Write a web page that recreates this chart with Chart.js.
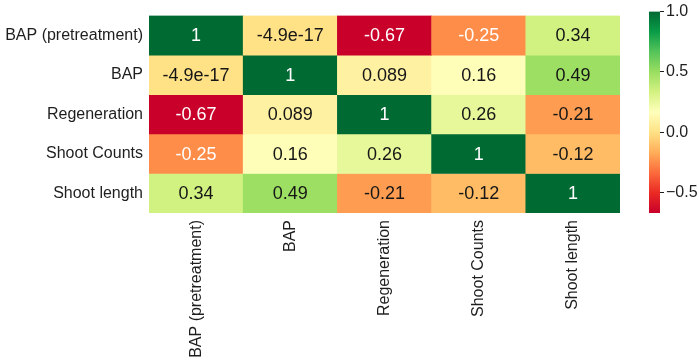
<!DOCTYPE html>
<html>
<head>
<meta charset="utf-8">
<script src="https://cdn.jsdelivr.net/npm/chart.js@4/dist/chart.umd.min.js"></script>
<style>
  body { margin: 0; background: #fff; }
  #wrap { position: relative; width: 699px; height: 363px; }
  canvas { position: absolute; top: 0; }
</style>
</head>
<body>
<div id="wrap">
  <canvas id="heat" width="630" height="363" style="left:0"></canvas>
  <canvas id="bar" width="79" height="363" style="left:620px"></canvas>
</div>
<script>
var labels = ['BAP (pretreatment)', 'BAP', 'Regeneration', 'Shoot Counts', 'Shoot length'];
var rowPre = [1, -4.9e-17, -0.67, -0.25, 0.34];
var rowBap = [-4.9e-17, 1, 0.089, 0.16, 0.49];
var rowReg = [-0.67, 0.089, 1, 0.26, -0.21];
var rowCounts = [-0.25, 0.16, 0.26, 1, -0.12];
var rowLength = [0.34, 0.49, -0.21, -0.12, 1];
var rows = [rowPre, rowBap, rowReg, rowCounts, rowLength];
var barTicks = [-0.5, 0, 0.5, 1];

var vmin = -0.67, vmax = 1;
var fontFamily = "'Liberation Sans', Arial, Helvetica, sans-serif";

// RdYlGn, a bit more saturated to look like the picture
var stops = ['#c8002a', '#ea2a24', '#fc6b3c', '#ffad58', '#ffe185', '#ffffbb',
             '#d4f282', '#9ade60', '#55c45a', '#0a9c48', '#006a33'];

function hexRgb(h) {
    return [parseInt(h.substr(1, 2), 16), parseInt(h.substr(3, 2), 16), parseInt(h.substr(5, 2), 16)];
}

function cmapRgb(v) {
    var t = (v - vmin) / (vmax - vmin);
    t = Math.max(0, Math.min(1, t));
    var pos = t * (stops.length - 1);
    var i = Math.min(Math.floor(pos), stops.length - 2);
    var f = pos - i;
    var a = hexRgb(stops[i]), b = hexRgb(stops[i + 1]);
    return [0, 1, 2].map(function (k) { return Math.round(a[k] + (b[k] - a[k]) * f); });
}

function cmap(v) {
    var c = cmapRgb(v);
    return 'rgb(' + c.join(',') + ')';
}

// same rule seaborn uses for annotation colour
function textColor(v) {
    var c = cmapRgb(v).map(function (x) {
        x = x / 255;
        return x <= 0.03928 ? x / 12.92 : Math.pow((x + 0.055) / 1.055, 2.4);
    });
    var lum = 0.2126 * c[0] + 0.7152 * c[1] + 0.0722 * c[2];
    return lum > 0.408 ? '#161616' : '#ffffff';
}

function fmt(v) {
    return Number(v.toPrecision(2)).toString();
}

var cellLabels = {
    id: 'cellLabels',
    afterDatasetsDraw: function (chart) {
        var ctx = chart.ctx;
        ctx.save();
        ctx.font = '18px ' + fontFamily;
        ctx.textAlign = 'center';
        ctx.textBaseline = 'middle';
        chart.data.datasets.forEach(function (ds, r) {
            chart.getDatasetMeta(r).data.forEach(function (bar, c) {
                var p = bar.getCenterPoint();
                ctx.fillStyle = textColor(rows[r][c]);
                ctx.fillText(fmt(rows[r][c]), p.x, p.y + 1);
            });
        });
        ctx.restore();
    }
};

var datasets = rows.map(function (row, r) {
    return {
        data: row.map(function () { return [r, r + 1]; }),
        backgroundColor: row.map(cmap),
        borderWidth: 0,
        barPercentage: 1,
        categoryPercentage: 1,
        grouped: false
    };
});

new Chart(document.getElementById('heat'), {
    type: 'bar',
    data: { labels: labels, datasets: datasets },
    plugins: [cellLabels],
    options: {
        responsive: false,
        animation: false,
        layout: { padding: { top: 8, right: 10, left: 0, bottom: 0 } },
        plugins: { legend: { display: false }, tooltip: { enabled: false } },
        scales: {
            x: {
                type: 'category',
                grid: { display: false, drawTicks: false },
                border: { display: false },
                ticks: {
                    maxRotation: 90, minRotation: 90, padding: 7,
                    color: '#1e1e1e', font: { size: 16, family: fontFamily }
                },
                afterFit: function (scale) { scale.height = 150; }
            },
            y: {
                type: 'linear', min: 0, max: 5, reverse: true,
                grid: { display: false, drawTicks: false },
                border: { display: false },
                afterBuildTicks: function (scale) {
                    scale.ticks = labels.map(function (l, i) { return { value: i + 0.5 }; });
                },
                ticks: {
                    padding: 6, color: '#1e1e1e', font: { size: 16, family: fontFamily },
                    callback: function (value, index) { return labels[index]; }
                },
                afterFit: function (scale) { scale.width = 149; }
            }
        }
    }
});

new Chart(document.getElementById('bar'), {
    type: 'bar',
    data: {
        labels: [''],
        datasets: [{
            data: [[vmin, vmax]],
            borderWidth: 0,
            barPercentage: 1,
            categoryPercentage: 1,
            backgroundColor: function (context) {
                var chart = context.chart;
                if (!chart.chartArea) return stops[5];
                var y = chart.scales.y;
                var g = chart.ctx.createLinearGradient(0, y.getPixelForValue(vmin), 0, y.getPixelForValue(vmax));
                stops.forEach(function (s, i) { g.addColorStop(i / (stops.length - 1), s); });
                return g;
            }
        }]
    },
    options: {
        responsive: false,
        animation: false,
        layout: { padding: { top: 8, left: 29, right: 0, bottom: 150 } },
        plugins: { legend: { display: false }, tooltip: { enabled: false } },
        scales: {
            x: { display: false },
            y: {
                position: 'right', min: vmin, max: vmax,
                grid: { drawOnChartArea: false, drawTicks: true, tickLength: 4, color: '#1e1e1e' },
                border: { display: false },
                afterBuildTicks: function (scale) {
                    scale.ticks = barTicks.map(function (v) { return { value: v }; });
                },
                ticks: {
                    padding: 2, color: '#1e1e1e', font: { size: 16, family: fontFamily },
                    callback: function (value) { return value.toFixed(1).replace('-', '\u2212'); }
                },
                afterFit: function (scale) { scale.width = 39; }
            }
        }
    }
});
</script>
</body>
</html>
